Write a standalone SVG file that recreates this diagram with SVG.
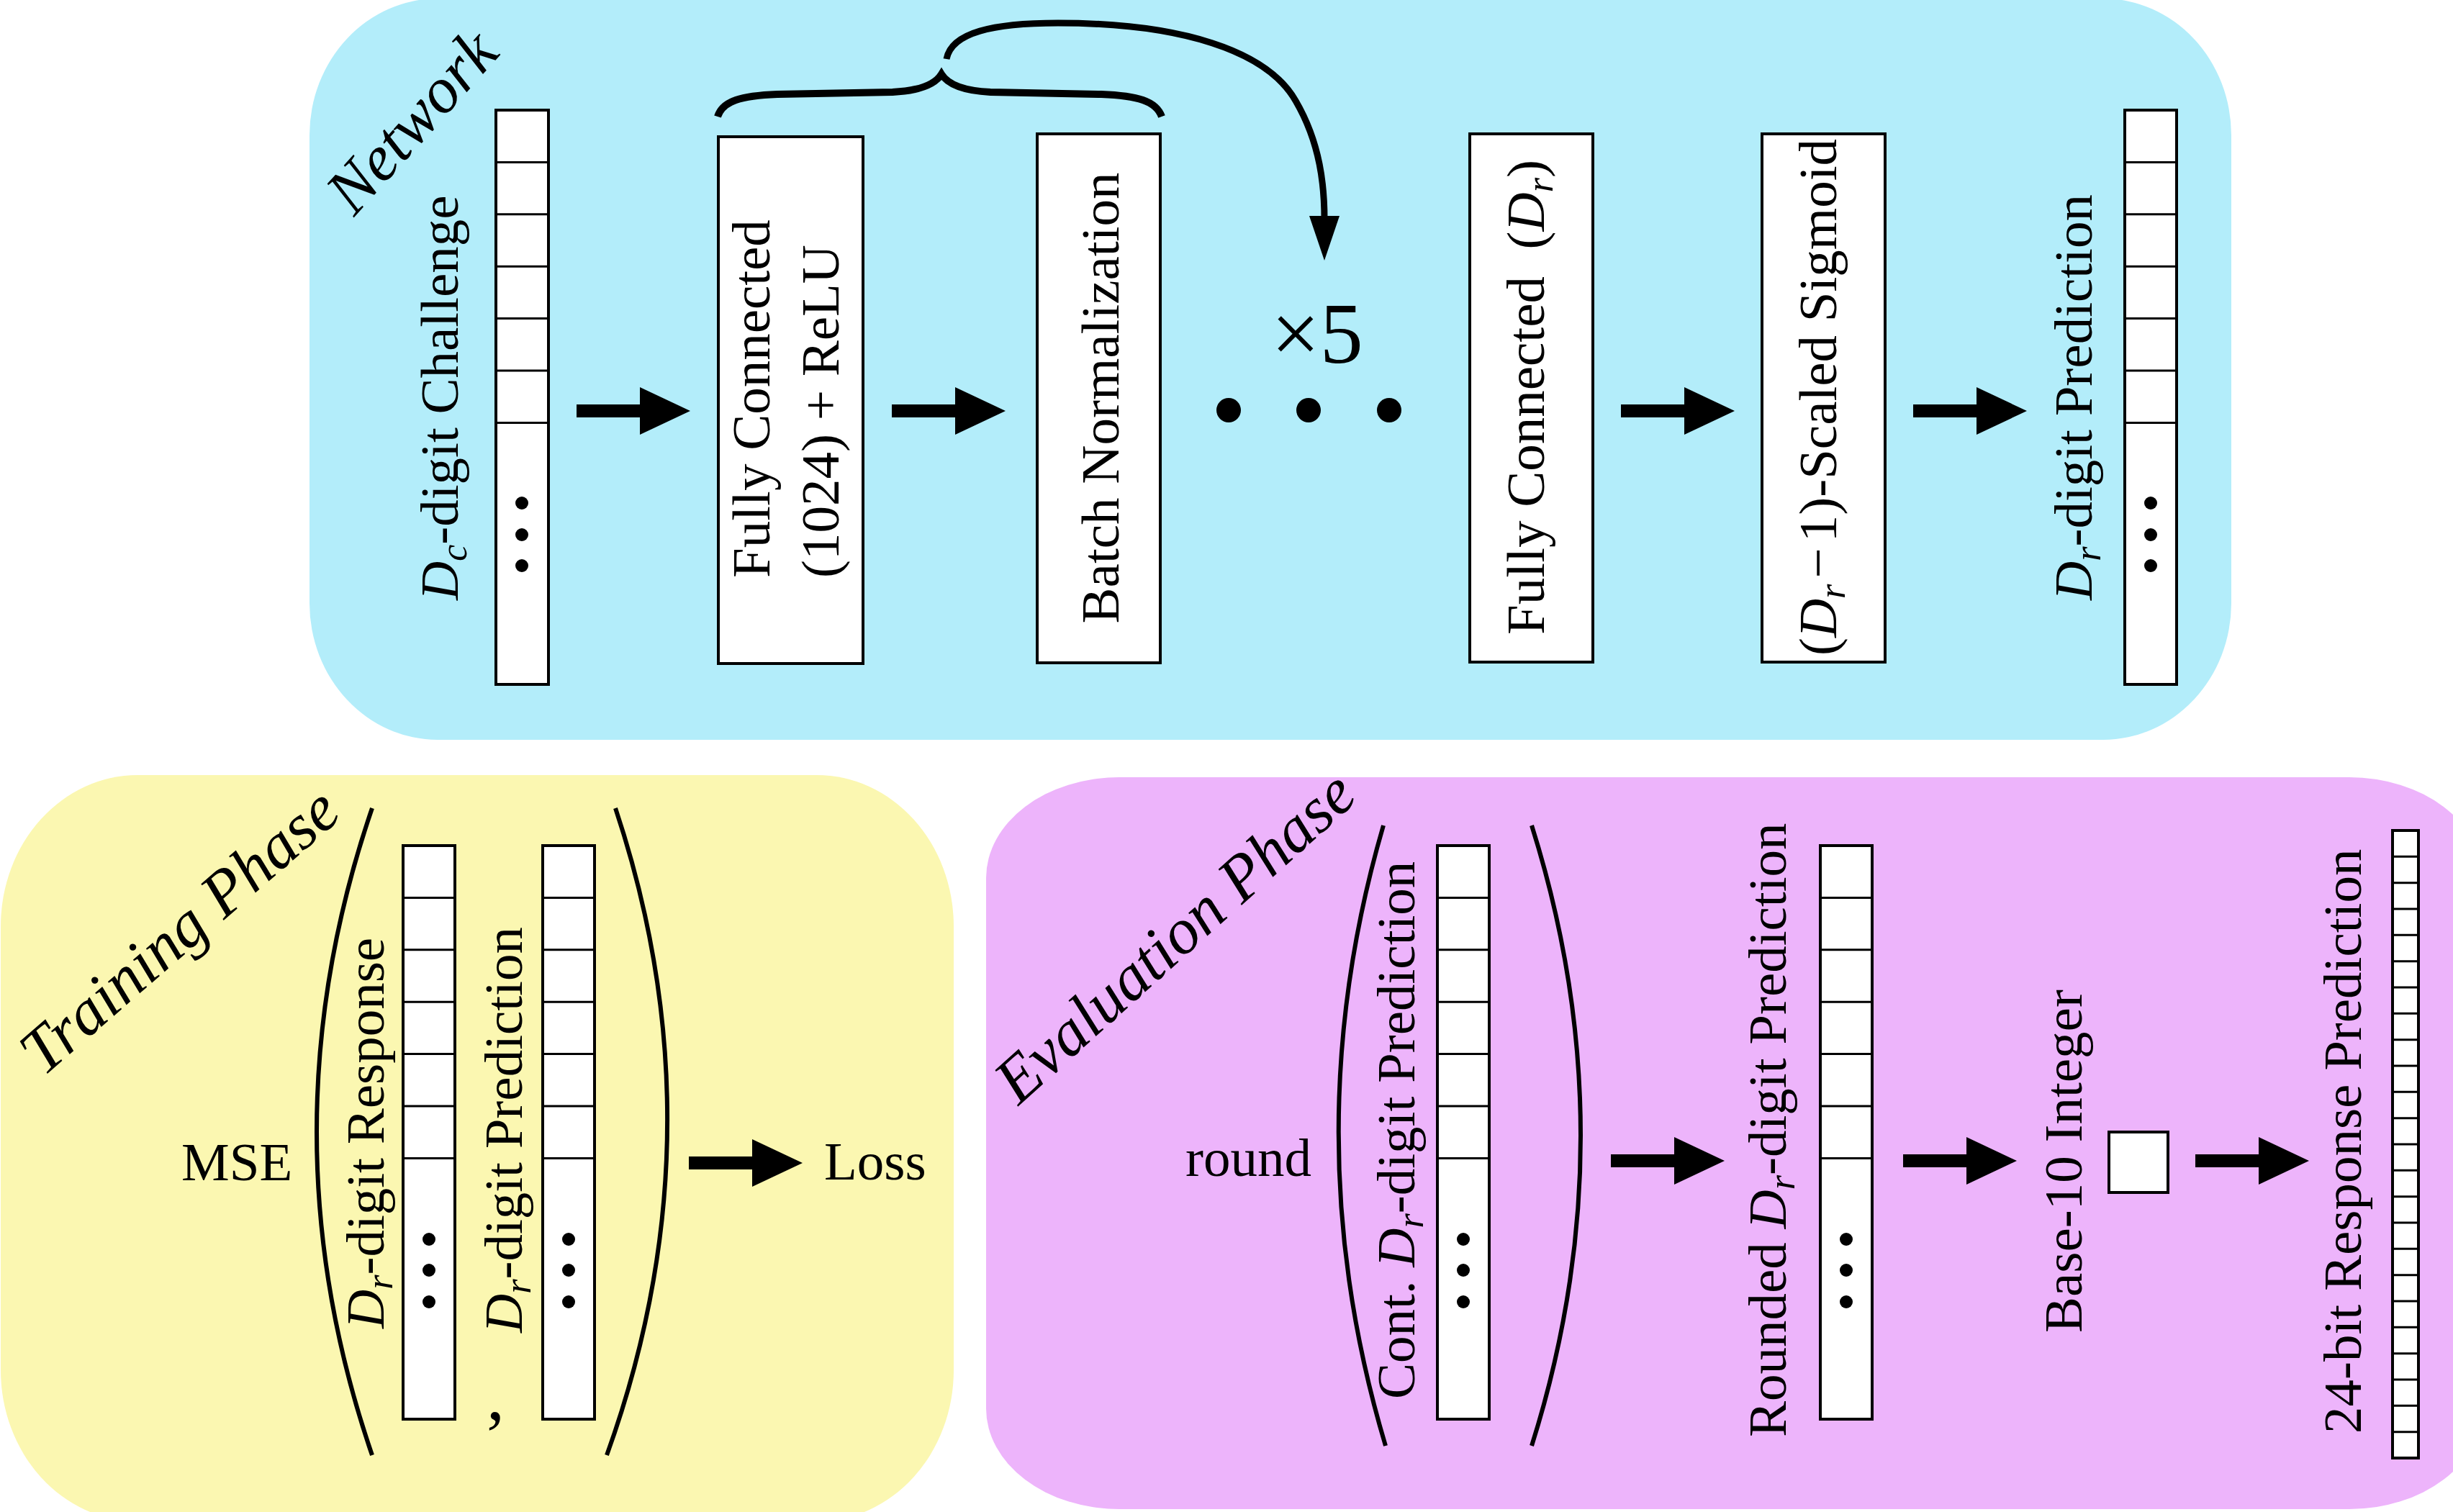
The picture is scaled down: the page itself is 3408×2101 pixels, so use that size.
<svg xmlns="http://www.w3.org/2000/svg" xmlns:xlink="http://www.w3.org/1999/xlink" width="3408" height="2101" viewBox="0 0 3408 2101">
<style>
.t{font-family:"Liberation Serif","Times New Roman",serif;font-size:75px;fill:#000}
.it{font-style:italic}
.ph{font-family:"Liberation Serif","Times New Roman",serif;font-size:90px;font-style:italic;fill:#000}
.sub{font-style:italic;font-size:52px}
.box{fill:#fff;stroke:#000;stroke-width:4}
.cell{fill:none;stroke:#000;stroke-width:3}
.curve{fill:none;stroke:#000;stroke-width:6}
.dot{fill:#000}
</style>
<defs>
<path id="arr" d="M0,-9 H88 V-33 L158,0 L88,33 V9 H0 Z" fill="#000"/>
</defs>
<rect width="3408" height="2101" fill="#fff"/>
<g id="panels">
<rect id="panel-network" x="430" y="-2" width="2670" height="1030" rx="178" ry="190" fill="#b3edfa"/>
<rect id="panel-training" x="1" y="1077" width="1324" height="1037" rx="190" ry="210" fill="#fbf7b1"/>
<rect id="panel-evaluation" x="1370" y="1080" width="2079" height="1017" rx="185" ry="140" fill="#edb4fb"/>
</g>
<g id="labels">
<text class="ph" transform="translate(492,302) rotate(-48)">Network</text>
<text class="ph" transform="translate(60,1497) rotate(-41)">Training Phase</text>
<text class="ph" transform="translate(1415,1537) rotate(-42)">Evaluation Phase</text>
</g>
<g id="challenge">
<rect class="box" x="689" y="153" width="73" height="798"/>
<path class="cell" d="M689,225.4H762M689,297.8H762M689,370.2H762M689,442.6H762M689,515H762M689,587.4H762"/>
<circle class="dot" cx="725" cy="699" r="9"/><circle class="dot" cx="725" cy="743" r="9"/><circle class="dot" cx="725" cy="786" r="9"/>
<text class="t" transform="translate(636,834) rotate(-90)"><tspan class="it">D</tspan><tspan class="sub" dy="12">c</tspan><tspan dy="-12">-digit Challenge</tspan></text>
</g>
<g id="fc1024">
<rect class="box" x="998" y="190" width="201" height="732"/>
<text class="t" transform="translate(1069,803) rotate(-90)">Fully Connected</text>
<text class="t" transform="translate(1165,803) rotate(-90)">(1024) + ReLU</text>
</g>
<g id="batchnorm">
<rect class="box" x="1441" y="186" width="171" height="735"/>
<text class="t" text-anchor="middle" transform="translate(1554,553) rotate(-90)">Batch Normalization</text>
</g>
<g id="repeat">
<path d="M997,162 C1004,140 1030,133 1080,131 L1240,128 C1280,126 1300,116 1308,103 C1316,116 1336,126 1376,128 L1530,131 C1580,133 1606,140 1614,162" fill="none" stroke="#000" stroke-width="10"/>
<path d="M1315,82 C1322,45 1380,32 1470,32 C1640,32 1760,70 1800,140 C1835,200 1840,260 1840,305" fill="none" stroke="#000" stroke-width="9"/>
<polygon points="1819,300 1861,300 1840,362" fill="#000"/>
<text class="t" x="1766" y="504" style="font-size:120px">×5</text>
<circle class="dot" cx="1707" cy="570" r="17"/><circle class="dot" cx="1818" cy="570" r="17"/><circle class="dot" cx="1930" cy="570" r="17"/>
</g>
<g id="fcdr">
<rect class="box" x="2042" y="186" width="171" height="734"/>
<text class="t" text-anchor="middle" transform="translate(2145,552) rotate(-90)">Fully Connected&#160; (<tspan class="it">D</tspan><tspan class="sub" dy="12">r</tspan><tspan dy="-12">)</tspan></text>
</g>
<g id="sigmoid">
<rect class="box" x="2448" y="186" width="171" height="734"/>
<text class="t" text-anchor="middle" transform="translate(2551,552) rotate(-90)">(<tspan class="it">D</tspan><tspan class="sub" dy="12">r</tspan><tspan dy="-12" dx="8">−</tspan><tspan dx="8">1)-Scaled Sigmoid</tspan></text>
</g>
<g id="prediction">
<rect class="box" x="2952" y="153" width="72" height="798"/>
<path class="cell" d="M2952,225.4H3024M2952,297.8H3024M2952,370.2H3024M2952,442.6H3024M2952,515H3024M2952,587.4H3024"/>
<circle class="dot" cx="2988" cy="699" r="9"/><circle class="dot" cx="2988" cy="743" r="9"/><circle class="dot" cx="2988" cy="786" r="9"/>
<text class="t" transform="translate(2906,834) rotate(-90)"><tspan class="it">D</tspan><tspan class="sub" dy="12">r</tspan><tspan dy="-12">-digit Prediction</tspan></text>
</g>
<g id="training">
<text class="t" x="252" y="1640">MSE</text>
<path class="curve" d="M517,1123 Q363,1573 517,2022"/>
<path class="curve" d="M855,1123 Q1005,1573 843,2022"/>
<rect class="box" x="560" y="1175" width="72" height="797"/>
<path class="cell" d="M560,1247.4H632M560,1319.8H632M560,1392.2H632M560,1464.6H632M560,1537H632M560,1609.4H632"/>
<circle class="dot" cx="596" cy="1722" r="9"/><circle class="dot" cx="596" cy="1765" r="9"/><circle class="dot" cx="596" cy="1809" r="9"/>
<text class="t" transform="translate(533,1846) rotate(-90)"><tspan class="it">D</tspan><tspan class="sub" dy="12">r</tspan><tspan dy="-12">-digit Response</tspan></text>
<rect class="box" x="754" y="1175" width="72" height="797"/>
<path class="cell" d="M754,1247.4H826M754,1319.8H826M754,1392.2H826M754,1464.6H826M754,1537H826M754,1609.4H826"/>
<circle class="dot" cx="790" cy="1722" r="9"/><circle class="dot" cx="790" cy="1765" r="9"/><circle class="dot" cx="790" cy="1809" r="9"/>
<text class="t" transform="translate(725,1852) rotate(-90)"><tspan class="it">D</tspan><tspan class="sub" dy="12">r</tspan><tspan dy="-12">-digit Prediction</tspan></text>
<text class="t" x="676" y="1972" style="font-size:100px">,</text>
<text class="t" x="1145" y="1639">Loss</text>
</g>
<g id="evaluation">
<text class="t" x="1647" y="1634">round</text>
<path class="curve" d="M1922,1147 Q1796,1578 1925,2009"/>
<path class="curve" d="M2128,1147 Q2264,1578 2128,2009"/>
<rect class="box" x="1997" y="1175" width="72" height="797"/>
<path class="cell" d="M1997,1247.4H2069M1997,1319.8H2069M1997,1392.2H2069M1997,1464.6H2069M1997,1537H2069M1997,1609.4H2069"/>
<circle class="dot" cx="2033" cy="1722" r="9"/><circle class="dot" cx="2033" cy="1765" r="9"/><circle class="dot" cx="2033" cy="1809" r="9"/>
<text class="t" transform="translate(1965,1944) rotate(-90)">Cont. <tspan class="it">D</tspan><tspan class="sub" dy="12">r</tspan><tspan dy="-12">-digit Prediction</tspan></text>
<text class="t" transform="translate(2481,1997) rotate(-90)">Rounded <tspan class="it">D</tspan><tspan class="sub" dy="12">r</tspan><tspan dy="-12">-digit Prediction</tspan></text>
<rect class="box" x="2529" y="1175" width="72" height="797"/>
<path class="cell" d="M2529,1247.4H2601M2529,1319.8H2601M2529,1392.2H2601M2529,1464.6H2601M2529,1537H2601M2529,1609.4H2601"/>
<circle class="dot" cx="2565" cy="1722" r="9"/><circle class="dot" cx="2565" cy="1765" r="9"/><circle class="dot" cx="2565" cy="1809" r="9"/>
<text class="t" transform="translate(2892,1852) rotate(-90)">Base-10 Integer</text>
<rect class="box" x="2930" y="1573" width="82" height="84"/>
<text class="t" transform="translate(3280,1992) rotate(-90)">24-bit Response Prediction</text>
<rect class="box" x="3324" y="1154" width="36" height="872"/>
<path class="cell" d="M3324,1190.3H3360M3324,1226.7H3360M3324,1263H3360M3324,1299.3H3360M3324,1335.7H3360M3324,1372H3360M3324,1408.3H3360M3324,1444.7H3360M3324,1481H3360M3324,1517.3H3360M3324,1553.7H3360M3324,1590H3360M3324,1626.3H3360M3324,1662.7H3360M3324,1699H3360M3324,1735.3H3360M3324,1771.7H3360M3324,1808H3360M3324,1844.3H3360M3324,1880.7H3360M3324,1917H3360M3324,1953.3H3360M3324,1989.7H3360"/>
</g>
<g id="connectors">
<use xlink:href="#arr" transform="translate(801,571)"/>
<use xlink:href="#arr" transform="translate(1239,571)"/>
<use xlink:href="#arr" transform="translate(2252,571)"/>
<use xlink:href="#arr" transform="translate(2658,571)"/>
<use xlink:href="#arr" transform="translate(957,1616)"/>
<use xlink:href="#arr" transform="translate(2238,1613)"/>
<use xlink:href="#arr" transform="translate(2644,1613)"/>
<use xlink:href="#arr" transform="translate(3050,1613)"/>
</g>
</svg>
